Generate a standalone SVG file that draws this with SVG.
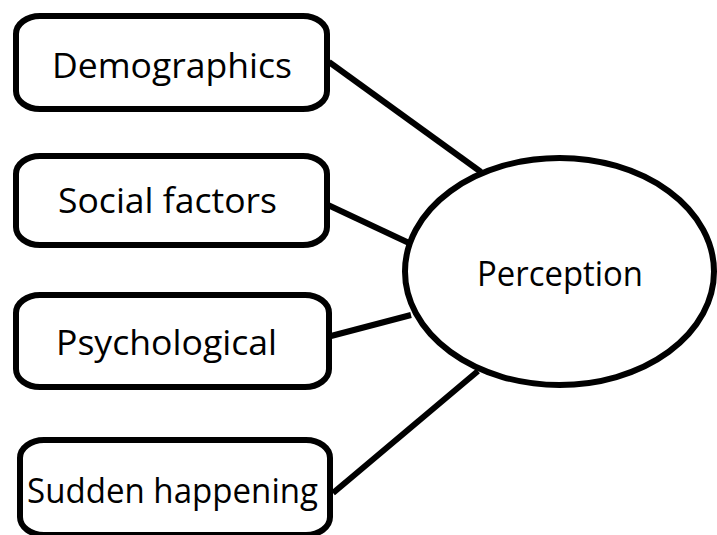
<svg xmlns="http://www.w3.org/2000/svg" width="717" height="535" viewBox="0 0 717 535">
<style>
.box{fill:#fff;stroke:#000;stroke-width:6}
.lbl{font-family:"Open Sans","Noto Sans",sans-serif;font-size:34px;fill:#000}
.conn line{stroke:#000;stroke-width:6;stroke-linecap:butt}
</style>
<rect width="717" height="535" fill="#fff"/>
<g id="connectors" class="conn">
<line x1="329" y1="62" x2="481" y2="172"/>
<line x1="328" y1="205" x2="409" y2="243"/>
<line x1="331" y1="336" x2="411" y2="315"/>
<line x1="333" y1="493" x2="478" y2="371"/>
</g>
<g id="demographics">
<rect class="box" x="16" y="16" width="311" height="93" rx="24" ry="18"/>
<text class="lbl" x="52" y="78" textLength="240" lengthAdjust="spacingAndGlyphs">Demographics</text>
</g>
<g id="social">
<rect class="box" x="16" y="156" width="311" height="89" rx="24" ry="18"/>
<text class="lbl" x="58" y="213" textLength="219" lengthAdjust="spacingAndGlyphs">Social factors</text>
</g>
<g id="psychological">
<rect class="box" x="16" y="295" width="313" height="92" rx="24" ry="18"/>
<text class="lbl" x="56" y="355" textLength="221" lengthAdjust="spacingAndGlyphs">Psychological</text>
</g>
<g id="sudden">
<rect class="box" x="20" y="440" width="310" height="95" rx="24" ry="18"/>
<text class="lbl" x="27" y="503" textLength="291" lengthAdjust="spacingAndGlyphs">Sudden happening</text>
</g>
<g id="perception">
<ellipse class="box" cx="559.5" cy="271.5" rx="154.5" ry="113.5"/>
<text class="lbl" x="477" y="286" textLength="166" lengthAdjust="spacingAndGlyphs">Perception</text>
</g>
</svg>
